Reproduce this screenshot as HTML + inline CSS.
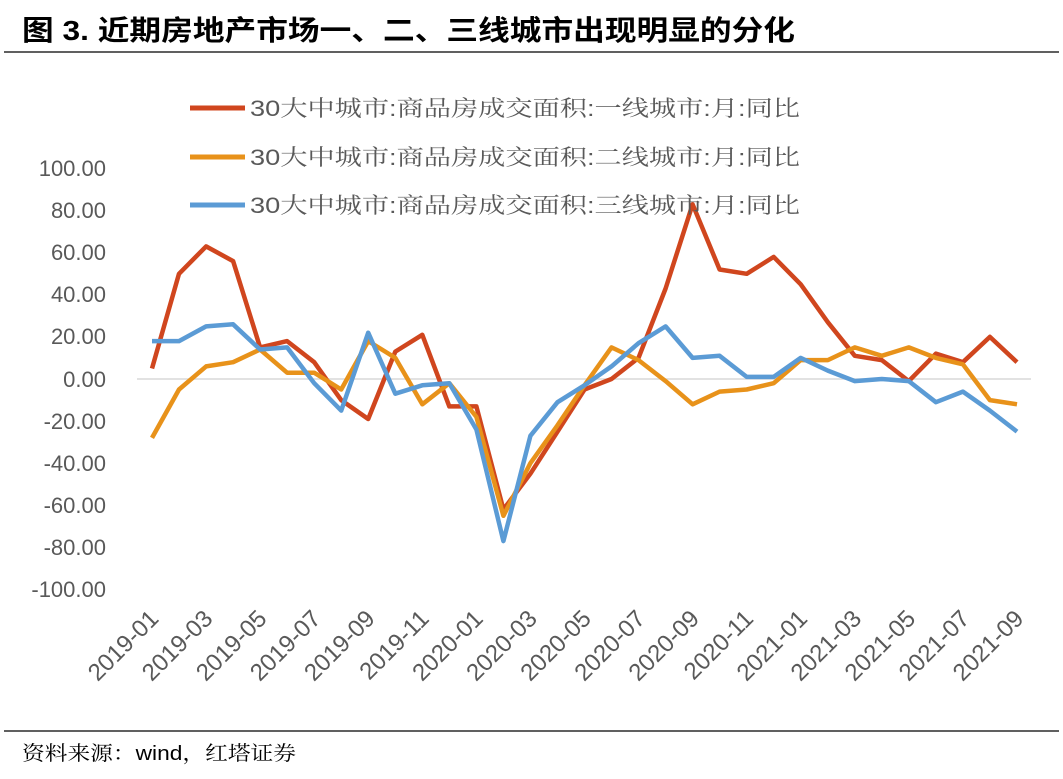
<!DOCTYPE html>
<html><head><meta charset="utf-8"><style>
body{margin:0;background:#fff;width:1063px;height:774px;overflow:hidden}
</style></head><body>
<svg width="1063" height="774" xmlns="http://www.w3.org/2000/svg">
<text x="22" y="40" textLength="773" lengthAdjust="spacingAndGlyphs" font-family="'Liberation Sans','Noto Sans CJK SC',sans-serif" font-size="28" font-weight="bold" fill="#000">图 3. 近期房地产市场一、二、三线城市出现明显的分化</text>
<line x1="4" y1="52" x2="1059" y2="52" stroke="#000" stroke-width="1.2"/>
<line x1="4" y1="731" x2="1059" y2="731" stroke="#000" stroke-width="1.2"/>
<text x="22" y="760" textLength="274" lengthAdjust="spacingAndGlyphs" font-family="'Liberation Sans','Noto Serif CJK SC',serif" font-size="20" fill="#000">资料来源：wind，红塔证券</text>
<g font-family="'Liberation Sans',sans-serif" font-size="22" fill="#595959" text-anchor="end">
<text x="106" y="176">100.00</text><text x="106" y="218">80.00</text><text x="106" y="260">60.00</text><text x="106" y="302">40.00</text><text x="106" y="344">20.00</text><text x="106" y="387">0.00</text><text x="106" y="429">-20.00</text><text x="106" y="471">-40.00</text><text x="106" y="513">-60.00</text><text x="106" y="555">-80.00</text><text x="106" y="597">-100.00</text>
</g>
<line x1="137" y1="379" x2="1031" y2="379" stroke="#d9d9d9" stroke-width="1.5"/>
<g id="xl" font-family="'Liberation Sans',sans-serif" font-size="24" fill="#595959" text-anchor="end"></g>
<g fill="none" stroke-width="4.5" stroke-linejoin="round" id="lines"></g>
<g font-family="'Liberation Sans','Noto Serif CJK SC',serif" font-size="22" fill="#595959">
<line x1="190" y1="108" x2="245" y2="108" stroke="#D0461E" stroke-width="5"/><text x="250" y="116" textLength="550" lengthAdjust="spacingAndGlyphs">30大中城市:商品房成交面积:一线城市:月:同比</text>
<line x1="190" y1="157" x2="245" y2="157" stroke="#E8921A" stroke-width="5"/><text x="250" y="165" textLength="550" lengthAdjust="spacingAndGlyphs">30大中城市:商品房成交面积:二线城市:月:同比</text>
<line x1="190" y1="205" x2="245" y2="205" stroke="#5B9BD5" stroke-width="5"/><text x="250" y="213" textLength="550" lengthAdjust="spacingAndGlyphs">30大中城市:商品房成交面积:三线城市:月:同比</text>
</g>
</svg>
<script>
var r=[5,50,63,56,15,18,8,-10,-19,13,21,-13,-13,-62,-45,-25,-5,0,10,43,83,52,50,58,45,27,11,9,-1,12,8,20,8];
var o=[-28,-5,6,8,14,3,3,-5,18,10,-12,-2,-18,-65,-40,-22,-3,15,9,-1,-12,-6,-5,-2,9,9,15,11,15,10,7,-10,-12];
var b=[18,18,25,26,14,15,-2,-15,22,-7,-3,-2,-24,-77,-27,-11,-3,6,17,25,10,11,1,1,10,4,-1,0,-1,-11,-6,-15,-25];
function X(i){return 152+i*27.03}function Y(v){return 379-v*2.105}
var ns="http://www.w3.org/2000/svg",g=document.getElementById('lines');
[[r,'#D0461E'],[o,'#E8921A'],[b,'#5B9BD5']].forEach(function(s){var p=document.createElementNS(ns,'polyline');p.setAttribute('points',s[0].map(function(v,i){return X(i).toFixed(1)+','+Y(v).toFixed(1)}).join(' '));p.setAttribute('stroke',s[1]);g.appendChild(p);});
var xl=document.getElementById('xl');
for(var i=0;i<33;i+=2){var y=2019+Math.floor(i/12),m=i%12+1;var t=document.createElementNS(ns,'text');var x=X(i)+8;t.setAttribute('transform','translate('+x+',620) rotate(-45)');t.textContent=y+'-'+(m<10?'0':'')+m;xl.appendChild(t);}
</script>
</body></html>
